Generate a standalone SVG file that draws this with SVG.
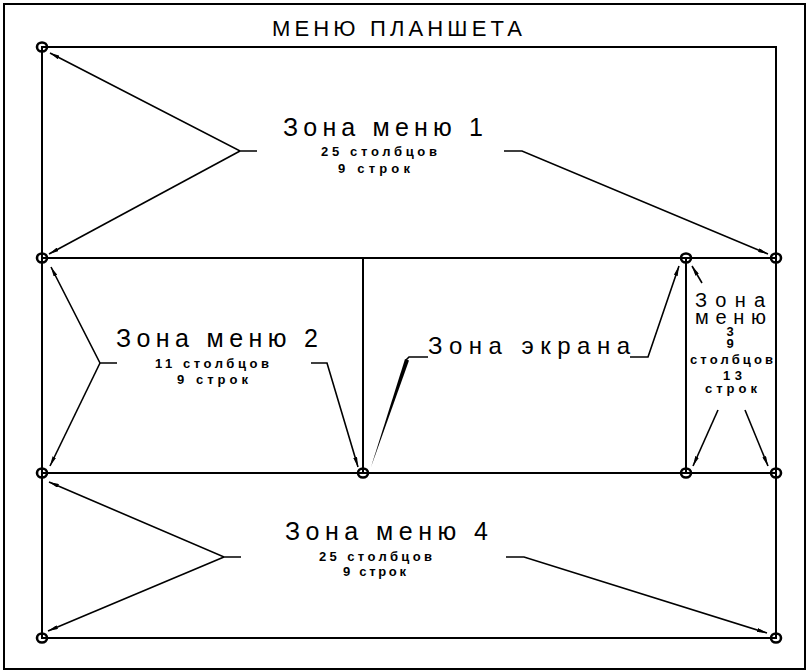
<svg xmlns="http://www.w3.org/2000/svg" width="806" height="670" viewBox="0 0 806 670">
<style>
.bg{fill:#fff}
.frame{stroke:#000;stroke-width:2;fill:none}
.grid{stroke:#000;stroke-width:2;fill:none}
.pt{stroke:#000;stroke-width:2.6;fill:none}
.ld{stroke:#000;stroke-width:1.6;fill:none}
.big{font-family:"Liberation Sans","DejaVu Sans",sans-serif;font-weight:normal;fill:#000}
.sm{font-family:"Liberation Sans","DejaVu Sans",sans-serif;font-weight:bold;fill:#000;font-size:13px}
</style>
<defs>
<marker id="ah" viewBox="0 0 10 4" refX="10" refY="2" markerWidth="10" markerHeight="4" markerUnits="userSpaceOnUse" orient="auto">
<path d="M0,0 L10,2 L0,4 z" fill="#000"/>
</marker>
</defs>
<rect class="bg" x="0" y="0" width="806" height="670"/>
<g id="frame">
<path class="frame" d="M4,670 V4 H806"/>
<path class="frame" d="M805,4 V669 H4"/>
</g>
<text class="big" x="272" y="36" font-size="22" textLength="250" lengthAdjust="spacing">МЕНЮ ПЛАНШЕТА</text>
<g id="tablet">
<rect class="grid" x="42" y="47" width="734" height="591"/>
<line class="grid" x1="42" y1="258" x2="776" y2="258"/>
<line class="grid" x1="42" y1="473" x2="776" y2="473"/>
<line class="grid" x1="363" y1="258" x2="363" y2="473"/>
<line class="grid" x1="686" y1="258" x2="686" y2="473"/>
</g>
<g id="points">
<ellipse class="pt" cx="42" cy="47" rx="5" ry="4.5"/>
<ellipse class="pt" cx="42" cy="258" rx="5" ry="4.5"/>
<ellipse class="pt" cx="686" cy="258" rx="5" ry="4.5"/>
<ellipse class="pt" cx="776" cy="258" rx="5" ry="4.5"/>
<ellipse class="pt" cx="42" cy="473" rx="5" ry="4.5"/>
<ellipse class="pt" cx="363" cy="473" rx="5" ry="4.5"/>
<ellipse class="pt" cx="686" cy="473" rx="5" ry="4.5"/>
<ellipse class="pt" cx="776" cy="473" rx="5" ry="4.5"/>
<ellipse class="pt" cx="42" cy="638" rx="5" ry="4.5"/>
<ellipse class="pt" cx="776" cy="638" rx="5" ry="4.5"/>
</g>
<g id="connectors">
<path class="ld" d="M257,151 H240 L50,53" marker-end="url(#ah)"/>
<path class="ld" d="M240,151 L49,254" marker-end="url(#ah)"/>
<path class="ld" d="M504,151 H522 L768,254" marker-end="url(#ah)"/>
<path class="ld" d="M117,363 H100 L51,267" marker-end="url(#ah)"/>
<path class="ld" d="M100,363 L50,466" marker-end="url(#ah)"/>
<path class="ld" d="M311,363 H327 L358,467" marker-end="url(#ah)"/>
<path class="ld" d="M630,357 H648 L679,266" marker-end="url(#ah)"/>
<path class="ld" d="M428,357 H409 L406,360"/>
<polygon points="405,359 409,360.5 371,467" fill="#000"/>
<path class="ld" d="M702,283 L692,266" marker-end="url(#ah)"/>
<path class="ld" d="M718,410 L693,466" marker-end="url(#ah)"/>
<path class="ld" d="M745,410 L768,466" marker-end="url(#ah)"/>
<path class="ld" d="M241,557 H224 L49,482" marker-end="url(#ah)"/>
<path class="ld" d="M224,557 L48,631" marker-end="url(#ah)"/>
<path class="ld" d="M506,557 H524 L767,633" marker-end="url(#ah)"/>
</g>
<g id="zone1">
<text class="big" x="283" y="136" font-size="25" textLength="200" lengthAdjust="spacing">Зона меню 1</text>
<text class="sm" x="321" y="156" textLength="116" lengthAdjust="spacing">25 столбцов</text>
<text class="sm" x="338" y="173" textLength="72" lengthAdjust="spacing">9 строк</text>
</g>
<g id="zone2">
<text class="big" x="116" y="347" font-size="25" textLength="202" lengthAdjust="spacing">Зона меню 2</text>
<text class="sm" x="155" y="368" textLength="114" lengthAdjust="spacing">11 столбцов</text>
<text class="sm" x="177" y="384" textLength="71" lengthAdjust="spacing">9 строк</text>
</g>
<g id="screen">
<text class="big" x="428" y="354" font-size="24" textLength="202" lengthAdjust="spacing">Зона экрана</text>
</g>
<g id="zone3">
<text class="big" x="695" y="307" font-size="20" textLength="70" lengthAdjust="spacing">Зона</text>
<text class="big" x="695" y="324" font-size="20" textLength="71" lengthAdjust="spacing">меню</text>
<text class="sm" x="730" y="336" font-size="12" text-anchor="middle">3</text>
<text class="sm" x="730" y="348" font-size="12" text-anchor="middle">9</text>
<text class="sm" x="690" y="364" font-size="13" textLength="83" lengthAdjust="spacing">столбцов</text>
<text class="sm" x="723" y="380" font-size="13" textLength="19" lengthAdjust="spacing">13</text>
<text class="sm" x="705" y="393" font-size="13" textLength="52" lengthAdjust="spacing">строк</text>
</g>
<g id="zone4">
<text class="big" x="285" y="540" font-size="25" textLength="203" lengthAdjust="spacing">Зона меню 4</text>
<text class="sm" x="319" y="561" textLength="113" lengthAdjust="spacing">25 столбцов</text>
<text class="sm" x="343" y="576" textLength="63" lengthAdjust="spacing">9 строк</text>
</g>
</svg>
